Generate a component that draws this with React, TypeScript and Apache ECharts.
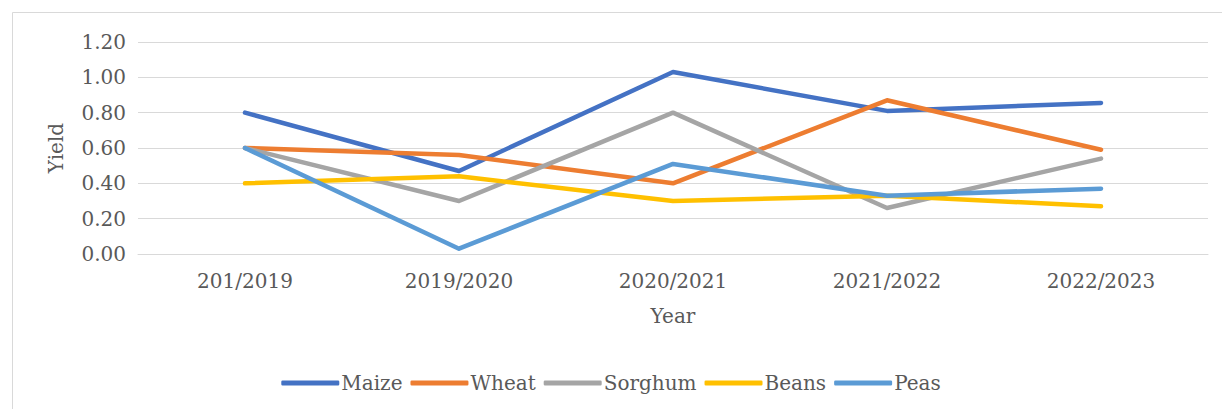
import React, { useEffect, useRef } from "react";
import * as echarts from "echarts";

const years = ["201/2019", "2019/2020", "2020/2021", "2021/2022", "2022/2023"];
const maize = [0.80, 0.47, 1.03, 0.81, 0.855];
const wheat = [0.60, 0.56, 0.40, 0.87, 0.59];
const sorghum = [0.60, 0.30, 0.80, 0.26, 0.54];
const beans = [0.40, 0.44, 0.30, 0.33, 0.27];
const peas = [0.60, 0.03, 0.51, 0.33, 0.37];

const seriesDefs = [
  { name: "Maize", data: maize, color: "#4472C4" },
  { name: "Wheat", data: wheat, color: "#ED7D31" },
  { name: "Sorghum", data: sorghum, color: "#A5A5A5" },
  { name: "Beans", data: beans, color: "#FFC000" },
  { name: "Peas", data: peas, color: "#5B9BD5" },
];

const FONT = "DejaVu Serif";
const TEXT = "#595959";
const FS = 20;

export default function App() {
  const ref = useRef<HTMLDivElement>(null);
  useEffect(() => {
    if (!ref.current) return;
    const chart = echarts.init(ref.current, undefined, { renderer: "svg" });
    chart.setOption({
      animation: false,
      backgroundColor: "#ffffff",
      graphic: [
        {
          type: "rect",
          shape: { x: 12.5, y: 12.5, width: 1215, height: 420 },
          style: { fill: "none", stroke: "#d9d9d9", lineWidth: 1 },
          silent: true,
        },
      ],
      grid: { left: 138, right: 14, top: 42, bottom: 155 },
      legend: {
        top: 368,
        left: "center",
        icon: "roundRect",
        itemWidth: 58,
        itemHeight: 5,
        itemGap: 8,
        textStyle: { fontFamily: FONT, fontSize: FS, color: TEXT, padding: [0, 0, 0, -3] },
        data: seriesDefs.map((s) => s.name),
      },
      xAxis: {
        type: "category",
        data: years,
        boundaryGap: true,
        name: "Year",
        nameLocation: "middle",
        nameGap: 52,
        nameTextStyle: { fontFamily: FONT, fontSize: FS, color: TEXT },
        axisLine: { show: true, lineStyle: { color: "#d9d9d9", width: 1 } },
        axisTick: { show: false },
        axisLabel: { fontFamily: FONT, fontSize: FS, color: TEXT, margin: 17 },
      },
      yAxis: {
        type: "value",
        min: 0,
        max: 1.2,
        interval: 0.2,
        name: "Yield",
        nameLocation: "middle",
        nameGap: 72,
        nameTextStyle: { fontFamily: FONT, fontSize: FS, color: TEXT },
        axisLine: { show: false },
        axisTick: { show: false },
        splitLine: { lineStyle: { color: "#d9d9d9", width: 1 } },
        axisLabel: {
          fontFamily: FONT,
          fontSize: FS,
          color: TEXT,
          margin: 12,
          formatter: (v: number) => v.toFixed(2),
        },
      },
      series: seriesDefs.map((s) => ({
        name: s.name,
        type: "line",
        data: s.data,
        showSymbol: false,
        symbol: "none",
        color: s.color,
        lineStyle: { color: s.color, width: 4.5, cap: "round", join: "round" },
        itemStyle: { color: s.color },
      })),
    });
    return () => chart.dispose();
  }, []);
  return (
    <div
      ref={ref}
      style={{ position: "absolute", left: 0, top: 0, width: 1222, height: 409 }}
    />
  );
}
